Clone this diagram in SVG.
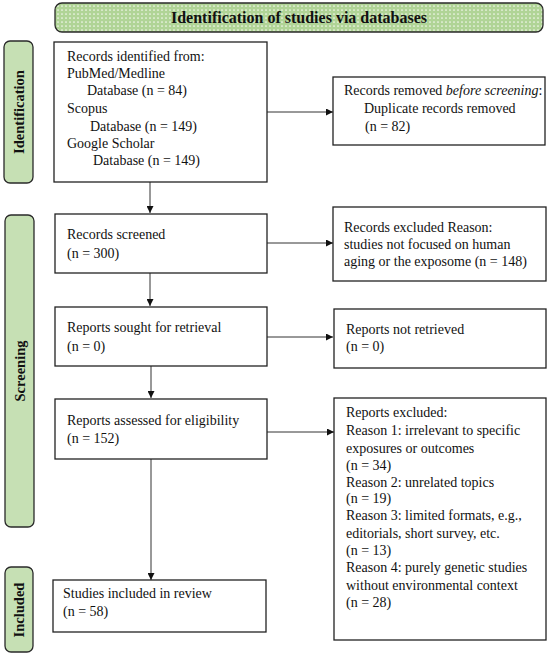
<svg xmlns="http://www.w3.org/2000/svg" width="550" height="657" viewBox="0 0 550 657">
<style>
.box{fill:#fff;stroke:#222;stroke-width:1.3}
.side{fill:#c6e0b4;stroke:#2a2a2a;stroke-width:1.3}
.t{font-family:"Liberation Serif","DejaVu Serif",serif;font-size:14px;fill:#111}
.sl{font-family:"Liberation Serif","DejaVu Serif",serif;font-size:14.5px;font-weight:bold;fill:#111}
.bt{font-family:"Liberation Serif","DejaVu Serif",serif;font-size:16px;font-weight:bold;fill:#111}
.con{stroke:#333;stroke-width:1;fill:none}
</style>
<defs>
<pattern id="dots" width="4" height="4" patternUnits="userSpaceOnUse">
<rect width="4" height="4" fill="#b0d496"/>
<circle cx="2" cy="2" r="0.85" fill="#f4f9ef"/>
</pattern>
<marker id="ah" viewBox="0 0 10 10" refX="10" refY="5" markerWidth="7" markerHeight="7" markerUnits="userSpaceOnUse" orient="auto">
<path d="M0,0 L10,5 L0,10 z" fill="#111"/>
</marker>
</defs>

<g id="banner">
<rect x="55" y="3" width="488" height="29" rx="7" fill="url(#dots)" stroke="#2a2a2a" stroke-width="1.3"/>
<text class="bt" x="299" y="23" text-anchor="middle">Identification of studies via databases</text>
</g>

<g id="label-identification">
<rect class="side" x="4" y="41" width="29" height="142" rx="6"/>
<text class="sl" transform="translate(24,112) rotate(-90)" text-anchor="middle">Identification</text>
</g>
<g id="label-screening">
<rect class="side" x="5" y="215" width="29" height="312" rx="6"/>
<text class="sl" transform="translate(24.5,371) rotate(-90)" text-anchor="middle">Screening</text>
</g>
<g id="label-included">
<rect class="side" x="5" y="567" width="28" height="85" rx="6"/>
<text class="sl" transform="translate(24,610) rotate(-90)" text-anchor="middle">Included</text>
</g>

<g id="connectors">
<line class="con" x1="150" y1="182" x2="150" y2="213" marker-end="url(#ah)"/>
<line class="con" x1="150" y1="273" x2="150" y2="306" marker-end="url(#ah)"/>
<line class="con" x1="151" y1="366" x2="151" y2="398" marker-end="url(#ah)"/>
<line class="con" x1="151" y1="459" x2="151" y2="580" marker-end="url(#ah)"/>
<line class="con" x1="267" y1="112" x2="333" y2="112" marker-end="url(#ah)"/>
<line class="con" x1="267" y1="243" x2="333" y2="243" marker-end="url(#ah)"/>
<line class="con" x1="267" y1="337" x2="333" y2="337" marker-end="url(#ah)"/>
<line class="con" x1="267" y1="432" x2="334" y2="432" marker-end="url(#ah)"/>
</g>

<g id="records-identified">
<rect class="box" x="54" y="42" width="213" height="140"/>
<text class="t" x="67" y="61">Records identified from:</text>
<text class="t" x="67" y="78">PubMed/Medline</text>
<text class="t" x="87" y="95">Database (n = 84)</text>
<text class="t" x="67" y="113">Scopus</text>
<text class="t" x="90" y="131">Database (n = 149)</text>
<text class="t" x="67" y="148">Google Scholar</text>
<text class="t" x="93" y="165">Database (n = 149)</text>
</g>

<g id="records-removed">
<rect class="box" x="333" y="77" width="212" height="68"/>
<text class="t" x="344" y="95">Records removed <tspan font-style="italic">before screening</tspan>:</text>
<text class="t" x="364" y="113">Duplicate records removed</text>
<text class="t" x="365" y="131">(n = 82)</text>
</g>

<g id="records-screened">
<rect class="box" x="55" y="214" width="212" height="59"/>
<text class="t" x="67" y="239">Records screened</text>
<text class="t" x="67" y="258">(n = 300)</text>
</g>

<g id="records-excluded">
<rect class="box" x="333" y="207" width="213" height="74"/>
<text class="t" x="344" y="232">Records excluded Reason:</text>
<text class="t" x="344" y="249">studies not focused on human</text>
<text class="t" x="344" y="266">aging or the exposome (n = 148)</text>
</g>

<g id="reports-sought">
<rect class="box" x="55" y="307" width="212" height="59"/>
<text class="t" x="67" y="332">Reports sought for retrieval</text>
<text class="t" x="67" y="351">(n = 0)</text>
</g>

<g id="reports-not-retrieved">
<rect class="box" x="334" y="309" width="212" height="59"/>
<text class="t" x="346" y="334">Reports not retrieved</text>
<text class="t" x="346" y="351">(n = 0)</text>
</g>

<g id="reports-assessed">
<rect class="box" x="55" y="399" width="212" height="60"/>
<text class="t" x="67" y="425">Reports assessed for eligibility</text>
<text class="t" x="67" y="443">(n = 152)</text>
</g>

<g id="reports-excluded">
<rect class="box" x="334" y="398" width="212" height="242"/>
<text class="t" x="346" y="417">Reports excluded:</text>
<text class="t" x="346" y="435">Reason 1: irrelevant to specific</text>
<text class="t" x="346" y="453">exposures or outcomes</text>
<text class="t" x="346" y="470">(n = 34)</text>
<text class="t" x="346" y="487">Reason 2: unrelated topics</text>
<text class="t" x="346" y="503">(n = 19)</text>
<text class="t" x="346" y="520">Reason 3: limited formats, e.g.,</text>
<text class="t" x="346" y="538">editorials, short survey, etc.</text>
<text class="t" x="346" y="555">(n = 13)</text>
<text class="t" x="346" y="572">Reason 4: purely genetic studies</text>
<text class="t" x="346" y="590">without environmental context</text>
<text class="t" x="346" y="607">(n = 28)</text>
</g>

<g id="studies-included">
<rect class="box" x="53" y="580" width="213" height="52"/>
<text class="t" x="63" y="598">Studies included in review</text>
<text class="t" x="63" y="616">(n = 58)</text>
</g>
</svg>
